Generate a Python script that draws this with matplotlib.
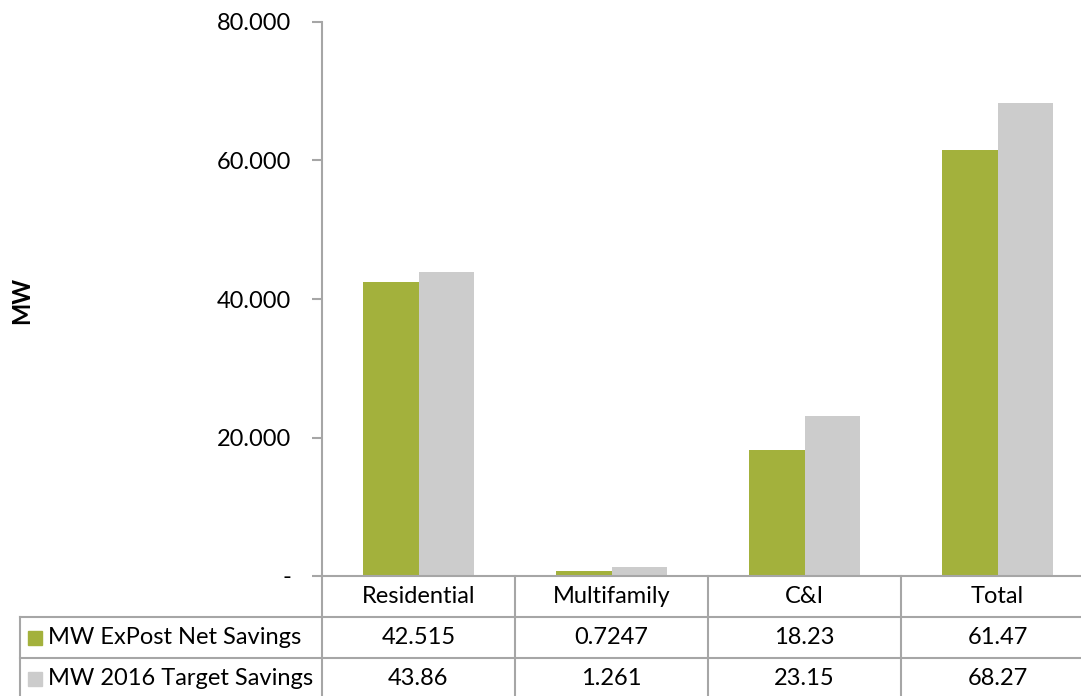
import numpy as np
import matplotlib.pyplot as plt
from matplotlib.patches import Rectangle

plt.rcParams['font.family'] = ['Lato', 'DejaVu Sans']

# Data
categories = ["Residential", "Multifamily", "C&I", "Total"]
series_names = ["MW ExPost Net Savings", "MW 2016 Target Savings"]
expost = [42.515, 0.7247, 18.23, 61.47]
target = [43.86, 1.261, 23.15, 68.27]
expost_labels = ["42.515", "0.7247", "18.23", "61.47"]
target_labels = ["43.86", "1.261", "23.15", "68.27"]
yticks = [0, 20, 40, 60, 80]
ytick_labels = ["-", "20.000", "40.000", "60.000", "80.000"]

GREEN = '#a3b13c'
GREY = '#cccccc'
LINE = '#a6a6a6'
FS = 17

W, H = 1081, 696
fig = plt.figure(figsize=(W / 100, H / 100), dpi=100)
ax = fig.add_axes([322 / W, (H - 576) / H, 772 / W, 554 / H])

x = np.arange(len(categories))
bw = 0.29
ax.bar(x - bw / 2, expost, bw, color=GREEN)
ax.bar(x + bw / 2, target, bw, color=GREY)

ax.set_xlim(-0.5, len(categories) - 0.5)
ax.set_ylim(0, 80)
ax.set_yticks(yticks)
ax.set_yticklabels(ytick_labels, fontsize=FS)
ax.set_xticks([])
for s in ['top', 'right']:
    ax.spines[s].set_visible(False)
for s in ['left', 'bottom']:
    ax.spines[s].set_color(LINE)
    ax.spines[s].set_linewidth(1.5)
ax.tick_params(axis='y', length=7, width=1.5, color=LINE, pad=15)

fig.text(22 / W, 1 - 300 / H, "MW", rotation=90, fontsize=FS,
         fontweight='bold', ha='center', va='center')

# Data table below the axis (pixel rows converted to axes fraction)
px = 1 / 554.0
row_h = 41 * px
left_x = -0.5 - 302 / 193.0
y_hdr = -row_h
y_r1 = -2 * row_h
y_r2 = -3 * row_h
kw = dict(color=LINE, lw=1.5, clip_on=False, transform=ax.get_xaxis_transform())

# horizontal lines
ax.plot([left_x, len(categories) - 0.5], [y_hdr, y_hdr], **kw)
ax.plot([left_x, len(categories) - 0.5], [y_r1, y_r1], **kw)
ax.plot([left_x, len(categories) - 0.5], [y_r2, y_r2], **kw)
# vertical lines
for b in np.arange(len(categories) + 1) - 0.5:
    ax.plot([b, b], [0, y_r2], **kw)
ax.plot([left_x, left_x], [y_hdr, y_r2], **kw)

tkw = dict(transform=ax.get_xaxis_transform(), ha='center', va='center',
           fontsize=FS, clip_on=False)
for i, cat in enumerate(categories):
    ax.text(i, -0.5 * row_h, cat, **tkw)
    ax.text(i, -1.5 * row_h, expost_labels[i], **tkw)
    ax.text(i, -2.5 * row_h, target_labels[i], **tkw)

# row labels with legend keys
for j, (name, col) in enumerate(zip(series_names, [GREEN, GREY])):
    yc = -(1.5 + j) * row_h
    ax.add_patch(Rectangle((left_x + 8 / 193.0, yc - 7 * px), 14 / 193.0, 14 * px,
                           color=col, transform=ax.get_xaxis_transform(),
                           clip_on=False))
    ax.text(left_x + 28 / 193.0, yc, name, transform=ax.get_xaxis_transform(),
            ha='left', va='center', fontsize=FS, clip_on=False)

fig.savefig('out.png', dpi=100)
